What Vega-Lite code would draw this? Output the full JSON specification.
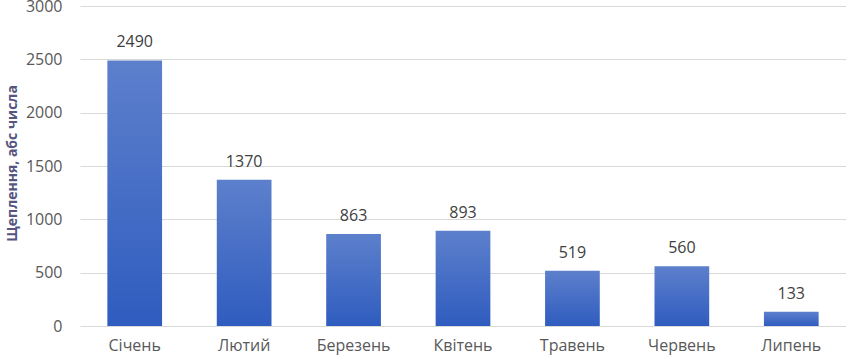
{
  "$schema": "https://vega.github.io/schema/vega-lite/v6.json",
  "width": 766,
  "height": 320,
  "autosize": {"type": "none"},
  "padding": {"left": 80, "top": 6, "right": 0, "bottom": 33},
  "background": "white",
  "config": {
    "view": {"stroke": null},
    "font": "Open Sans"
  },
  "data": {
    "values": [
      {"month": "Січень", "value": 2490},
      {"month": "Лютий", "value": 1370},
      {"month": "Березень", "value": 863},
      {"month": "Квітень", "value": 893},
      {"month": "Травень", "value": 519},
      {"month": "Червень", "value": 560},
      {"month": "Липень", "value": 133}
    ]
  },
  "encoding": {
    "x": {
      "field": "month",
      "type": "nominal",
      "sort": null,
      "scale": {"paddingInner": 0.5, "paddingOuter": 0.25},
      "axis": {
        "title": null,
        "labelAngle": 0,
        "labelFont": "Open Sans",
        "labelFontSize": 16,
        "labelColor": "#595959",
        "labelPadding": 11,
        "ticks": false,
        "domain": false
      }
    },
    "y": {
      "field": "value",
      "type": "quantitative",
      "scale": {"domain": [0, 3000], "nice": false},
      "axis": {
        "title": "Щеплення, абс числа",
        "titleFont": "Open Sans",
        "titleFontSize": 14,
        "titleFontWeight": "bold",
        "titleColor": "#56557f",
        "titlePadding": 6,
        "titleY": 157,
        "values": [0, 500, 1000, 1500, 2000, 2500, 3000],
        "format": "d",
        "labelFont": "Open Sans",
        "labelFontSize": 16,
        "labelColor": "#595959",
        "labelPadding": 18,
        "ticks": false,
        "domain": false,
        "grid": true,
        "gridColor": "#d9d9d9",
        "gridWidth": 1
      }
    }
  },
  "layer": [
    {
      "mark": {
        "type": "bar",
        "color": {
          "gradient": "linear",
          "x1": 0, "y1": 0, "x2": 0, "y2": 1,
          "stops": [
            {"offset": 0, "color": "#5d80cc"},
            {"offset": 1, "color": "#2f5cbf"}
          ]
        }
      }
    },
    {
      "mark": {
        "type": "text",
        "baseline": "alphabetic",
        "dy": -13,
        "font": "Open Sans",
        "fontSize": 16,
        "color": "#404040"
      },
      "encoding": {"text": {"field": "value", "type": "quantitative", "format": "d"}}
    }
  ]
}
